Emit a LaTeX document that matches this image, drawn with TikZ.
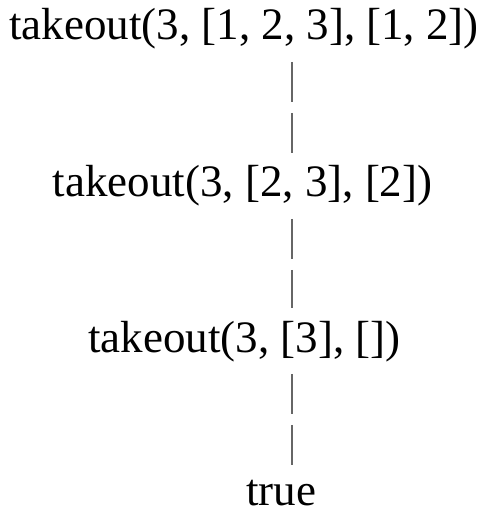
\documentclass[tikz,border=0pt]{standalone}
\usepackage{fontspec}
\setmainfont{Liberation Serif}
\usepackage{tikz}

\begin{document}
\begin{tikzpicture}[x=0.5pt,y=-0.5pt,
	term/.style={anchor=base, inner sep=6pt, font=\fontsize{22.5pt}{27pt}\selectfont},
	link/.style={draw=black!60, line width=1.4pt, dash pattern=on 20pt off 5.5pt}]
			\useasboundingbox (0,0) rectangle (484,513);
			\coordinate (axis) at (292,0);
			\node[term] (call1) at (244,40) {takeout(3, [1, 2, 3], [1, 2])};
			\node[term] (call2) at (242.5,197) {takeout(3, [2, 3], [2])};
			\node[term] (call3) at (244.5,352) {takeout(3, [3], [])};
			\node[term] (result) at (281,505) {true};
			\draw[link] (call1.south -| axis) -- (call2.north -| axis);
			\draw[link] (call2.south -| axis) -- (call3.north -| axis);
			\draw[link] (call3.south -| axis) -- (result.north -| axis);
		\end{tikzpicture}
\end{document}
